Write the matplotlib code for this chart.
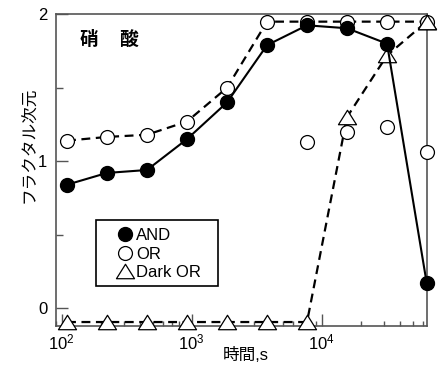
import numpy as np
import matplotlib
matplotlib.use('Agg')
import matplotlib.pyplot as plt
from matplotlib.lines import Line2D
from matplotlib.path import Path
from matplotlib.patches import Rectangle
from matplotlib.ticker import FixedLocator, NullFormatter

plt.rcParams['font.family'] = ['Liberation Sans', 'Noto Sans CJK JP']
plt.rcParams['mathtext.default'] = 'regular'

# data
times = [110, 223, 453, 920, 1870, 3800, 7710, 15650, 31800, 64200]
and_dim = [0.84, 0.92, 0.94, 1.15, 1.40, 1.79, 1.925, 1.905, 1.80, 0.17]
or_dim = [1.14, 1.165, 1.18, 1.27, 1.50, 1.95, 1.95, 1.95, 1.95, 1.95]
or_extra_t = [7710, 15650, 31800, 64200]
or_extra = [1.13, 1.20, 1.23, 1.06]
dark_or = [-0.095] * 7 + [1.30, 1.72, 1.95]

# wide flat triangle marker (closed path so it gets filled)
tri = Path([(-1, -0.8), (1, -0.8), (0, 0.8), (-1, -0.8)], closed=True)
spine_col = '#555555'

fig = plt.figure(figsize=(4.43, 3.65), dpi=100)
ax = fig.add_axes([55.7 / 443, 1 - 325.7 / 365, (426.7 - 55.7) / 443, (325.7 - 14.3) / 365])

ax.plot(times, dark_or, color='black', lw=1.6, ls=(0, (4, 2.5)),
        marker=tri, ms=13, mfc='white', mec='black', mew=0.9, clip_on=False, zorder=3)
ax.plot(times, or_dim, color='black', lw=1.6, ls=(0, (4, 2.5)),
        marker='o', ms=10, mfc='white', mec='black', mew=0.9, clip_on=False, zorder=4)
ax.plot(or_extra_t, or_extra, ls='none',
        marker='o', ms=10, mfc='white', mec='black', mew=0.9, clip_on=False, zorder=4)
ax.plot(times, and_dim, color='black', lw=1.5,
        marker='o', ms=10, mfc='black', mec='black', clip_on=False, zorder=5)
# triangle at the last point sits on top
ax.plot(times[-1:], dark_or[-1:], ls='none', marker=tri, ms=13, mfc='white',
        mec='black', mew=0.9, clip_on=False, zorder=6)

ax.set_xscale('log')
ax.set_xlim(90, 64200)
ax.set_ylim(-0.12, 2.0)
ax.set_yticks([0, 1, 2])
ax.yaxis.set_minor_locator(FixedLocator([0.5, 1.5]))
ax.set_yticklabels(['0', '1', '2'])
ax.xaxis.set_minor_formatter(NullFormatter())

for s in ax.spines.values():
    s.set_color(spine_col)
    s.set_linewidth(1.2)

ax.tick_params(axis='both', which='both', direction='in', colors=spine_col,
               labelcolor='black', labelsize=12, width=1.0)
ax.tick_params(axis='y', which='major', length=8.5, pad=6)
ax.tick_params(axis='y', which='minor', length=5)
ax.tick_params(axis='x', which='major', length=8.5, pad=5)
ax.tick_params(axis='x', which='minor', length=3.6)

ax.set_xlabel('時間,s', fontsize=12)
ax.xaxis.set_label_coords(0.513, -0.068)
ax.set_ylabel('フラクタル次元', fontsize=12)
ax.yaxis.set_label_coords(-0.05, 0.58)

# title, two characters set apart
ax.text(0.063, 0.917, '硝', transform=ax.transAxes, fontsize=13.5,
        fontweight='bold', va='center', ha='left')
ax.text(0.170, 0.917, '酸', transform=ax.transAxes, fontsize=13.5,
        fontweight='bold', va='center', ha='left')

# legend box drawn separately, entries placed inside it
ax.add_patch(Rectangle((0.108, 0.1275), 0.33, 0.2115, transform=ax.transAxes,
                       facecolor='white', edgecolor='black', lw=1.2,
                       clip_on=False, zorder=7))
handles = [
    Line2D([], [], ls='none', marker='o', ms=10, mfc='black', mec='black'),
    Line2D([], [], ls='none', marker='o', ms=10, mfc='white', mec='black', mew=0.9),
    Line2D([], [], ls='none', marker=tri, ms=13, mfc='white', mec='black', mew=0.9),
]
leg = ax.legend(handles, ['AND', 'OR', 'Dark OR'], loc='upper left',
                bbox_to_anchor=(0.1666, 0.313), fontsize=12, frameon=False,
                handlelength=0.9, handletextpad=0.2, labelspacing=0.2,
                borderpad=0, borderaxespad=0)
leg.set_zorder(8)

fig.savefig('out.png', dpi=100)
